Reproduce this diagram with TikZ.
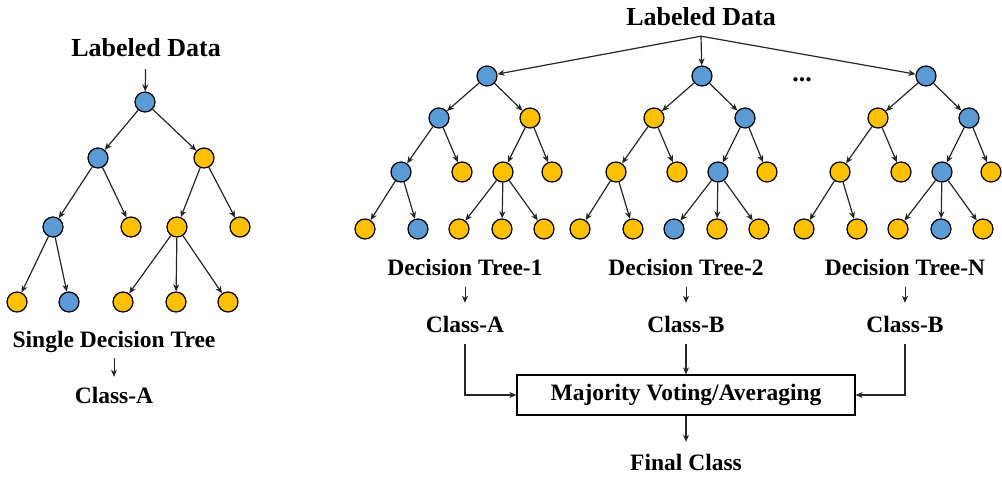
\documentclass[tikz,border=0pt]{standalone}
\usepackage{fontspec}
\setmainfont{Liberation Serif}
\usetikzlibrary{positioning,arrows.meta}
\definecolor{blu}{HTML}{5B9BD5}
\definecolor{ylw}{HTML}{FFC000}

\begin{document}
\begin{tikzpicture}[
        x=1pt,y=-1pt,
        vtx/.style={
          draw=black,
          circle,
          line width=1.2pt,
          inner sep=0pt,
          minimum size=20pt
          },
        lbl/.style={
          font=\fontsize{23.5}{28}\selectfont\bfseries,
          inner sep=0pt,
          text height=16pt,
          text depth=0pt,
          anchor=base
          },
        big/.style={
          lbl,
          font=\fontsize{26}{30}\selectfont\bfseries,
          text height=18pt
          },
        vote/.style={
          draw,
          line width=1.2pt,
          minimum width=338pt,
          minimum height=40pt,
          font=\fontsize{23.5}{28}\selectfont\bfseries
          },
        edge/.style={->,line width=1.2pt,black!85},
        >={Stealth[length=7pt,width=6pt,inset=2pt]}
        ]
        \useasboundingbox (0,0) rectangle (1002,477);
        % single tree on the left
        \foreach \n/\x/\y/\c in {0/145/102/blu,1/98/158/blu,2/204/158/ylw,
            11/53/227/blu,12/131/227/ylw,21/177/227/ylw,22/240/227/ylw,
            111/17/302/ylw,112/69/302/blu,211/123/302/ylw,212/176/302/ylw,213/228/302/ylw}
          \node[vtx,fill=\c] (s-\n) at (\x,\y) {};
        % the three trees of the forest (root x = 487, 702, 926)
        \foreach \n/\dx/\y/\ca/\cb/\cc in {0/0/76/blu/blu/blu,
            1/-48/118/blu/ylw/ylw,2/43/118/ylw/blu/blu,
            11/-86/172/blu/ylw/ylw,12/-25/172/ylw/ylw/ylw,
            21/16/172/ylw/blu/blu,22/65/172/ylw/ylw/ylw,
            111/-122/229/ylw/ylw/ylw,112/-69/229/blu/ylw/ylw,
            211/-28/229/ylw/blu/ylw,212/15/229/ylw/ylw/blu,213/57/229/ylw/ylw/ylw}
        {
          \node[vtx,fill=\ca] (t1-\n) at ({487+\dx},\y) {};
          \node[vtx,fill=\cb] (t2-\n) at ({702+\dx},\y) {};
          \node[vtx,fill=\cc] (t3-\n) at ({926+\dx},\y) {};
        }
        \foreach \t in {s,t1,t2,t3}
        {\foreach \p/\q in {0/1,0/2,1/11,1/12,2/21,2/22,11/111,11/112,21/211,21/212,21/213}
          \draw[edge] (\t-\p) -- (\t-\q);
        }
        % labels
        \node[big] (sdata) at (146,56.5) {Labeled Data};
        \node[lbl] (single) at (114,347) {Single Decision Tree};
        \node[lbl] (sclass) at (114,403) {Class-A};
        \node[big] (fdata) at (701,25) {Labeled Data};
        \coordinate[below=11pt of fdata] (fork);
        \node[big] (dots) at (802,81) {...};
        \foreach \t/\x/\cl in {1/465/A,2/686/B,3/905/B}
        {
          \node[lbl] (dt\t) at (\x,275) {Decision Tree-\ifnum\t=3 N\else\t\fi};
          \node[lbl] (c\t) at (\x,332) {Class-\cl};
          \draw[edge,line width=0.8pt,shorten <=12pt,shorten >=13pt] (dt\t) -- (c\t);
        }
        \node[vote] (mv) at (686,395) {Majority Voting/Averaging};
        \node[lbl] (final) at (686,470) {Final Class};
        % connectors
        \draw[edge,shorten <=12.5pt] (sdata) -- (s-0);
        \draw[edge,line width=0.8pt,shorten <=11pt,shorten >=10pt] (single) -- (sclass);
        \foreach \t in {1,2,3}
          \draw[edge] (fork) -- (t\t-0);
        \draw[edge,shorten <=12pt] (c1) |- (mv);
        \draw[edge,shorten <=12pt] (c2) -- (mv);
        \draw[edge,shorten <=12pt] (c3) |- (mv);
        \draw[edge,shorten >=12pt] (mv) -- (final);
\end{tikzpicture}
\end{document}
